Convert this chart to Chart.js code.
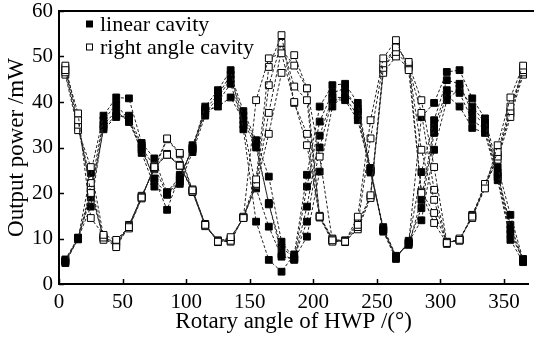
<!DOCTYPE html>
<html>
<head>
<meta charset="utf-8">
<script src="https://cdn.jsdelivr.net/npm/chart.js@4.4.1/dist/chart.umd.min.js"></script>
<style>
  html, body { margin: 0; padding: 0; background: #fff; }
  #wrap { width: 534px; height: 337px; }
</style>
</head>
<body>
<div id="wrap"><canvas id="powerChart" width="534" height="337"></canvas></div>
<script>
// HWP rotation angles (degrees)
const angles = [5, 15, 25, 35, 45, 55, 65, 75, 85, 95, 105, 115, 125, 135, 145, 155, 165, 175, 185,
    195, 205, 215, 225, 235, 245, 255, 265, 275, 285, 295, 305, 315, 325, 335, 345, 355, 365];

// Linear cavity, five measurement runs (mW)
const linearRun1 = [4.6, 10.0, 24.4, 37.0, 41.0, 40.8, 31.0, 27.6, 20.0, 23.0, 30.0, 39.0, 42.6, 47.0, 34.0, 13.7, 5.3, 2.7, 6.5,
    24.0, 39.0, 43.7, 44.0, 39.8, 25.0, 12.0, 6.0, 9.0, 36.7, 39.8, 46.6, 47.0, 40.8, 36.4, 25.7, 15.2, 5.3];
const linearRun2 = [5.0, 9.8, 21.0, 36.0, 39.5, 36.0, 30.0, 25.8, 19.6, 22.0, 29.0, 37.0, 40.0, 44.0, 35.0, 21.0, 12.6, 6.0, 5.5,
    21.4, 35.7, 42.0, 43.0, 38.0, 25.5, 11.5, 5.5, 9.5, 24.6, 36.0, 44.8, 44.0, 37.6, 35.0, 24.5, 12.0, 5.0];
const linearRun3 = [5.4, 10.2, 19.8, 35.0, 38.0, 35.6, 29.5, 23.2, 16.3, 24.0, 29.5, 38.0, 39.0, 41.0, 36.0, 30.0, 17.8, 6.5, 5.3,
    17.0, 32.6, 41.0, 41.0, 37.0, 24.5, 12.5, 6.2, 8.6, 18.5, 34.5, 42.6, 42.0, 36.0, 34.0, 23.5, 11.0, 5.5];
const linearRun4 = [4.8, 10.0, 17.0, 34.5, 37.0, 36.5, 28.8, 21.4, 19.8, 22.5, 30.5, 37.5, 41.0, 45.0, 37.0, 30.8, 17.5, 8.0, 5.8,
    13.7, 30.0, 40.5, 40.4, 36.0, 25.0, 12.0, 6.0, 9.0, 16.7, 33.2, 41.5, 39.0, 34.3, 33.2, 22.8, 9.7, 4.8];
const linearRun5 = [5.2, 10.1, 19.0, 34.0, 36.7, 37.0, 30.5, 22.5, 20.2, 23.5, 29.8, 38.5, 41.5, 46.0, 38.0, 31.6, 23.6, 9.3, 5.5,
    10.4, 24.7, 39.0, 42.0, 38.5, 24.8, 11.8, 5.8, 9.2, 14.0, 29.5, 40.4, 43.0, 39.0, 35.5, 24.0, 13.0, 5.2];

// Right angle cavity, five measurement runs (mW)
const rightRun1 = [47.0, 37.5, 14.5, 10.8, 9.7, 12.5, 19.0, 25.7, 32.0, 28.8, 20.6, 13.0, 9.3, 10.3, 14.5, 40.4, 49.6, 50.7, 40.0,
    30.5, 14.8, 9.6, 9.3, 14.8, 36.0, 49.6, 53.6, 47.0, 20.0, 13.4, 9.0, 9.7, 14.8, 21.0, 30.5, 41.0, 48.0];
const rightRun2 = [48.0, 36.0, 20.0, 10.2, 8.1, 12.8, 19.2, 25.5, 28.4, 26.0, 20.3, 12.8, 9.5, 9.5, 14.8, 23.0, 47.7, 54.7, 39.8,
    33.0, 14.8, 9.8, 9.5, 13.0, 32.0, 48.5, 52.0, 48.8, 20.3, 15.6, 9.2, 9.5, 15.0, 22.0, 29.0, 39.0, 47.0];
const rightRun3 = [46.5, 35.0, 22.2, 9.7, 9.0, 12.2, 18.8, 26.0, 28.6, 26.2, 20.5, 13.2, 9.2, 9.8, 14.6, 22.0, 43.7, 53.0, 43.4,
    40.4, 15.0, 10.0, 9.2, 12.5, 19.5, 47.5, 51.0, 48.0, 29.5, 18.5, 8.8, 10.0, 14.5, 21.5, 28.0, 38.0, 46.5];
const rightRun4 = [46.0, 33.8, 25.7, 10.5, 8.5, 13.0, 19.0, 25.7, 28.4, 26.0, 20.8, 13.0, 9.6, 10.0, 14.5, 21.8, 37.6, 51.5, 48.0,
    43.0, 14.6, 9.3, 9.4, 12.0, 18.9, 46.4, 50.0, 47.5, 37.6, 20.7, 9.1, 9.8, 14.8, 21.8, 27.3, 36.7, 46.0];
const rightRun5 = [47.5, 34.5, 21.0, 10.0, 9.3, 12.5, 19.4, 25.2, 31.8, 28.5, 20.2, 12.7, 9.4, 9.3, 14.7, 21.5, 33.0, 46.4, 50.3,
    43.0, 28.0, 9.5, 9.6, 13.5, 19.2, 47.0, 52.5, 48.3, 40.4, 25.7, 9.3, 9.6, 15.2, 21.2, 28.5, 37.5, 47.5];

const xTicks = [0, 50, 100, 150, 200, 250, 300, 350];
const yTicks = [0, 10, 20, 30, 40, 50, 60];

const serif = 'Liberation Serif';

function run(values, filled) {
    return {
        label: filled ? 'linear cavity' : 'right angle cavity',
        data: angles.map((a, i) => ({ x: a, y: values[i] })),
        borderColor: '#222',
        borderWidth: 1,
        borderDash: [3, 2],
        tension: 0,
        pointStyle: 'rect',
        pointRadius: 4.8,
        pointBorderWidth: 1,
        pointBorderColor: '#000',
        pointBackgroundColor: filled ? '#000' : '#fff',
        order: filled ? 1 : 0
    };
}

// keep the plot box fixed: no extra room reserved for half tick labels
function noLabelPadding(scale) {
    scale.paddingTop = 0;
    scale.paddingBottom = 0;
    scale.paddingLeft = 0;
    scale.paddingRight = 0;
}

// inward tick marks, top frame line and the legend box
const framePlugin = {
    id: 'framePlugin',
    afterDraw(chart) {
        const { ctx, chartArea: a, scales: { x, y } } = chart;
        ctx.save();
        ctx.strokeStyle = '#000';
        ctx.lineWidth = 1.5;
        ctx.beginPath();
        xTicks.forEach(v => {
            const px = Math.round(x.getPixelForValue(v)) + 0.5;
            ctx.moveTo(px, a.bottom);
            ctx.lineTo(px, a.bottom - 5);
        });
        yTicks.forEach(v => {
            const py = Math.round(y.getPixelForValue(v)) + 0.5;
            ctx.moveTo(a.left, py);
            ctx.lineTo(a.left + 5, py);
        });
        ctx.stroke();

        ctx.lineWidth = 2;
        ctx.beginPath();
        ctx.moveTo(a.left - 1, a.top);
        ctx.lineTo(chart.width, a.top);
        ctx.stroke();

        // legend
        const items = [
            { text: 'linear cavity', fill: '#000', cy: 24 },
            { text: 'right angle cavity', fill: '#fff', cy: 47 }
        ];
        ctx.font = '22px "' + serif + '"';
        ctx.textBaseline = 'alphabetic';
        ctx.textAlign = 'left';
        items.forEach(it => {
            ctx.fillStyle = it.fill;
            ctx.lineWidth = 1;
            ctx.fillRect(86.5, it.cy - 3, 6, 6);
            ctx.strokeRect(86.5, it.cy - 3, 6, 6);
            ctx.fillStyle = '#000';
            ctx.fillText(it.text, 100, it.cy + 7);
        });
        ctx.restore();
    }
};

const ctx = document.getElementById('powerChart').getContext('2d');
const chart = new Chart(ctx, {
    type: 'line',
    data: {
        datasets: [
            run(linearRun1, true), run(linearRun2, true), run(linearRun3, true),
            run(linearRun4, true), run(linearRun5, true),
            run(rightRun1, false), run(rightRun2, false), run(rightRun3, false),
            run(rightRun4, false), run(rightRun5, false)
        ]
    },
    options: {
        responsive: false,
        animation: false,
        devicePixelRatio: 1,
        layout: { padding: { top: 11, right: 0, left: 0, bottom: 0 } },
        plugins: {
            legend: { display: false },
            tooltip: { enabled: false }
        },
        scales: {
            x: {
                type: 'linear',
                min: 0,
                max: 369,
                afterFit(scale) { scale.height = 53; noLabelPadding(scale); },
                afterBuildTicks(scale) { scale.ticks = xTicks.map(v => ({ value: v })); },
                grid: { display: false, drawTicks: false },
                border: { display: true, color: '#000', width: 2 },
                ticks: { color: '#000', padding: 6, maxRotation: 0, font: { family: serif, size: 21 } },
                title: {
                    display: true,
                    text: 'Rotary angle of HWP /(°)',
                    color: '#000',
                    font: { family: serif, size: 23 },
                    padding: { top: 0, bottom: 1 }
                }
            },
            y: {
                min: 0,
                max: 60,
                afterFit(scale) { scale.width = 59; noLabelPadding(scale); },
                afterBuildTicks(scale) { scale.ticks = yTicks.map(v => ({ value: v })); },
                grid: { display: false, drawTicks: false },
                border: { display: true, color: '#000', width: 2 },
                ticks: { color: '#000', padding: 6, font: { family: serif, size: 21 } },
                title: {
                    display: true,
                    text: 'Output power /mW',
                    color: '#000',
                    font: { family: serif, size: 23 },
                    padding: { top: 3, bottom: 0 }
                }
            }
        }
    },
    plugins: [framePlugin]
});
</script>
</body>
</html>
